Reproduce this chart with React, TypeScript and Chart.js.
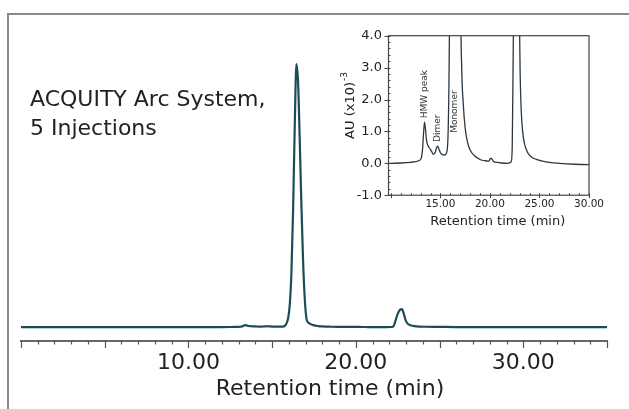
import React, { useEffect, useRef } from "react";
import { Chart, registerables } from "chart.js";

Chart.register(...registerables);

// ---- Data (absorbance in AU x10^-3) ----
const retentionTime = [
  0, 5, 10, 11, 12, 12.5, 12.8, 13.0, 13.1, 13.2, 13.3, 13.4, 13.5, 13.6, 13.75, 13.9,
  14.1, 14.3, 14.5, 14.6, 14.72, 14.85, 15.0, 15.2, 15.45, 15.6, 15.75, 15.85, 15.95,
  16.05, 16.15, 16.25, 16.35, 16.45, 16.55, 16.65, 16.75, 16.85, 16.95, 17.05, 17.15,
  17.3, 17.5, 17.75, 18.0, 18.5, 19.0, 19.5, 19.9, 20.05, 20.15, 20.35, 20.7, 21.2,
  21.8, 22.15, 22.25, 22.35, 22.45, 22.55, 22.65, 22.72, 22.78, 22.87, 22.95, 23.05, 23.15, 23.3,
  23.5, 23.8, 24.2, 24.7, 25.3, 26.0, 27.0, 28.5, 30.0, 32.0, 35.0,
];
const absorbance = [
  0, 0, 0, 0.01, 0.03, 0.05, 0.08, 0.12, 0.2, 0.45, 0.95, 1.29, 1.05, 0.72, 0.55, 0.48,
  0.38, 0.28, 0.36, 0.48, 0.54, 0.45, 0.33, 0.27, 0.26, 0.32, 0.7, 2.2, 5.5,
  14, 35, 75, 130, 170, 158, 120, 78, 42, 18, 5.5, 3.0,
  1.9, 1.1, 0.65, 0.42, 0.22, 0.12, 0.08, 0.07, 0.15, 0.15, 0.06, 0.03, 0.01,
  0.0, 0.05, 0.5, 3.5, 7.0, 9.8, 11.3, 11.6, 11.1, 8.4, 5.2, 2.8, 1.7, 1.0,
  0.6, 0.34, 0.2, 0.12, 0.07, 0.03, 0.0, -0.03, -0.04, -0.04, -0.05,
];

const panelTitle = ["ACQUITY Arc System,", "5 Injections"];
const xAxisTitle = "Retention time (min)";
const insetYTitle = "AU (x10)";
const insetYTitleSup = "-3";

const annotationLabels = ["HMW peak", "Dimer", "Monomer"];
const annotationX = [13.45, 14.72, 16.4];
const annotationY = [2.17, 1.1, 1.62];

// main axis
const mainXMin = 0;
const mainXMax = 35;
const mainYMin = -9;
const mainYMax = 192;
const mainMinorStep = 1;
const mainMajorStep = 5;
const mainLabelStep = 10;

// inset axes
const insetXMin = 9.76;
const insetXMax = 30;
const insetYMin = -1;
const insetYMax = 4;
const insetXLabelStep = 5;
const insetXMinorStep = 1;
const insetYMinorStep = 0.2;

const FONT = "'DejaVu Sans', Verdana, sans-serif";
const points = retentionTime.map((t, i) => ({ x: t, y: absorbance[i] }));

const mainDecor = {
  id: "mainDecor",
  afterDraw(chart: any) {
    const { ctx, chartArea, scales } = chart;
    const xs = scales.x;
    ctx.save();
    // frame
    ctx.strokeStyle = "#8a8a8a";
    ctx.lineWidth = 2;
    ctx.beginPath();
    ctx.moveTo(8, chart.height + 2);
    ctx.lineTo(8, 14);
    ctx.lineTo(chart.width + 2, 14);
    ctx.stroke();
    // tick marks
    ctx.strokeStyle = "#555";
    ctx.lineWidth = 1.2;
    for (let v = mainXMin; v <= mainXMax + 1e-9; v += mainMinorStep) {
      const px = Math.round(xs.getPixelForValue(v)) + 0.5;
      const len = Math.abs(v % mainMajorStep) < 1e-9 ? 7 : 3.5;
      ctx.beginPath();
      ctx.moveTo(px, chartArea.bottom);
      ctx.lineTo(px, chartArea.bottom + len);
      ctx.stroke();
    }
    // panel title
    ctx.fillStyle = "#222";
    ctx.font = `22px ${FONT}`;
    ctx.textAlign = "left";
    ctx.textBaseline = "alphabetic";
    panelTitle.forEach((line, i) => ctx.fillText(line, 30, 106 + i * 29));
    // axis title
    ctx.textAlign = "center";
    ctx.fillText(xAxisTitle, (chartArea.left + chartArea.right) / 2 + 16, chartArea.bottom + 54);
    ctx.restore();
  },
};

const insetDecor = {
  id: "insetDecor",
  afterDraw(chart: any) {
    const { ctx, chartArea, scales } = chart;
    const xs = scales.x;
    const ys = scales.y;
    const { left, right, top, bottom } = chartArea;
    ctx.save();
    ctx.strokeStyle = "#444";
    ctx.lineWidth = 1.2;
    ctx.strokeRect(left, top, right - left, bottom - top);
    ctx.lineWidth = 1;
    // y ticks
    for (let v = insetYMin; v <= insetYMax + 1e-9; v += insetYMinorStep) {
      const py = Math.round(ys.getPixelForValue(v)) + 0.5;
      const major = Math.abs(v - Math.round(v)) < 1e-6;
      ctx.beginPath();
      if (major) {
        ctx.moveTo(left - 4, py);
        ctx.lineTo(left + 2, py);
      } else {
        ctx.moveTo(left, py);
        ctx.lineTo(left + 2, py);
      }
      ctx.stroke();
    }
    // x ticks
    for (let v = Math.ceil(insetXMin); v <= insetXMax + 1e-9; v += insetXMinorStep) {
      const px = Math.round(xs.getPixelForValue(v)) + 0.5;
      const major = v % insetXLabelStep === 0;
      ctx.beginPath();
      ctx.moveTo(px, bottom - 2);
      ctx.lineTo(px, bottom + (major ? 3 : 0));
      ctx.stroke();
    }
    ctx.fillStyle = "#222";
    // x title
    ctx.font = `13px ${FONT}`;
    ctx.textAlign = "center";
    ctx.textBaseline = "alphabetic";
    ctx.fillText(xAxisTitle, (left + right) / 2 + 9, bottom + 30);
    // y title
    ctx.save();
    ctx.translate(left - 37.5, (top + bottom) / 2 - 10);
    ctx.rotate(-Math.PI / 2);
    ctx.font = `13px ${FONT}`;
    const w1 = ctx.measureText(insetYTitle).width;
    ctx.font = `9px ${FONT}`;
    const w2 = ctx.measureText(insetYTitleSup).width;
    const start = -(w1 + w2 + 1) / 2;
    ctx.textAlign = "left";
    ctx.textBaseline = "middle";
    ctx.font = `13px ${FONT}`;
    ctx.fillText(insetYTitle, start, 0);
    ctx.font = `9px ${FONT}`;
    ctx.fillText(insetYTitleSup, start + w1 + 1, -6);
    ctx.restore();
    // annotations
    ctx.font = `9px ${FONT}`;
    ctx.fillStyle = "#333";
    annotationLabels.forEach((lab, i) => {
      ctx.save();
      ctx.translate(xs.getPixelForValue(annotationX[i]), ys.getPixelForValue(annotationY[i]));
      ctx.rotate(-Math.PI / 2);
      ctx.textAlign = "center";
      ctx.textBaseline = "middle";
      ctx.fillText(lab, 0, 0);
      ctx.restore();
    });
    ctx.restore();
  },
};

export default function App() {
  const mainRef = useRef<HTMLCanvasElement | null>(null);
  const insetRef = useRef<HTMLCanvasElement | null>(null);

  useEffect(() => {
    const main = new Chart(mainRef.current as HTMLCanvasElement, {
      type: "line",
      data: {
        datasets: [
          {
            data: points,
            borderColor: "#1b4d55",
            borderWidth: 2.2,
            pointRadius: 0,
            fill: false,
            cubicInterpolationMode: "monotone",
          },
        ],
      },
      options: {
        responsive: false,
        animation: false,
        devicePixelRatio: 1,
        layout: { padding: { left: 21, right: 22, top: 30, bottom: 0 } },
        plugins: { legend: { display: false }, tooltip: { enabled: false } },
        scales: {
          x: {
            type: "linear",
            min: mainXMin,
            max: mainXMax,
            grid: { display: false, drawTicks: false },
            border: { display: true, color: "#666", width: 2 },
            ticks: {
              stepSize: mainMinorStep,
              autoSkip: false,
              maxRotation: 0,
              padding: 9,
              color: "#222",
              font: { family: FONT, size: 22 },
              callback: (v: any) => (v > 0 && v % mainLabelStep === 0 ? Number(v).toFixed(2) : ""),
            },
            afterFit: (s: any) => {
              s.height = 68;
            },
          },
          y: { display: false, min: mainYMin, max: mainYMax },
        },
      },
      plugins: [mainDecor],
    } as any);

    const inset = new Chart(insetRef.current as HTMLCanvasElement, {
      type: "line",
      data: {
        datasets: [
          {
            data: points,
            borderColor: "#2b3742",
            borderWidth: 1.3,
            pointRadius: 0,
            fill: false,
            clip: 0,
            cubicInterpolationMode: "monotone",
          },
        ],
      },
      options: {
        responsive: false,
        animation: false,
        devicePixelRatio: 1,
        layout: { padding: { left: 0, right: 40, top: 20.7, bottom: 0 } },
        plugins: { legend: { display: false }, tooltip: { enabled: false } },
        scales: {
          x: {
            type: "linear",
            min: insetXMin,
            max: insetXMax,
            grid: { display: false, drawTicks: false },
            border: { display: false },
            ticks: {
              stepSize: insetXLabelStep,
              autoSkip: false,
              maxRotation: 0,
              padding: 3,
              color: "#222",
              font: { family: FONT, size: 10.5 },
              callback: (v: any) =>
                Math.abs(v % insetXLabelStep) < 1e-9 && v >= 15 ? Number(v).toFixed(2) : "",
            },
            afterFit: (s: any) => {
              s.height = 44.8;
            },
          },
          y: {
            type: "linear",
            min: insetYMin,
            max: insetYMax,
            grid: { display: false, drawTicks: false },
            border: { display: false },
            ticks: {
              stepSize: 1,
              padding: 6.5,
              color: "#222",
              font: { family: FONT, size: 13 },
              callback: (v: any) => Number(v).toFixed(1),
            },
            afterFit: (s: any) => {
              s.width = 58.5;
            },
          },
        },
      },
      plugins: [insetDecor],
    } as any);

    return () => {
      main.destroy();
      inset.destroy();
    };
  }, []);

  return (
    <div style={{ position: "absolute", left: 0, top: 0, width: 629, height: 409, background: "#fff", overflow: "hidden" }}>
      <canvas ref={mainRef} width={629} height={409} style={{ position: "absolute", left: 0, top: 0, width: 629, height: 409 }} />
      <canvas ref={insetRef} width={299} height={225} style={{ position: "absolute", left: 330, top: 15, width: 299, height: 225 }} />
    </div>
  );
}
